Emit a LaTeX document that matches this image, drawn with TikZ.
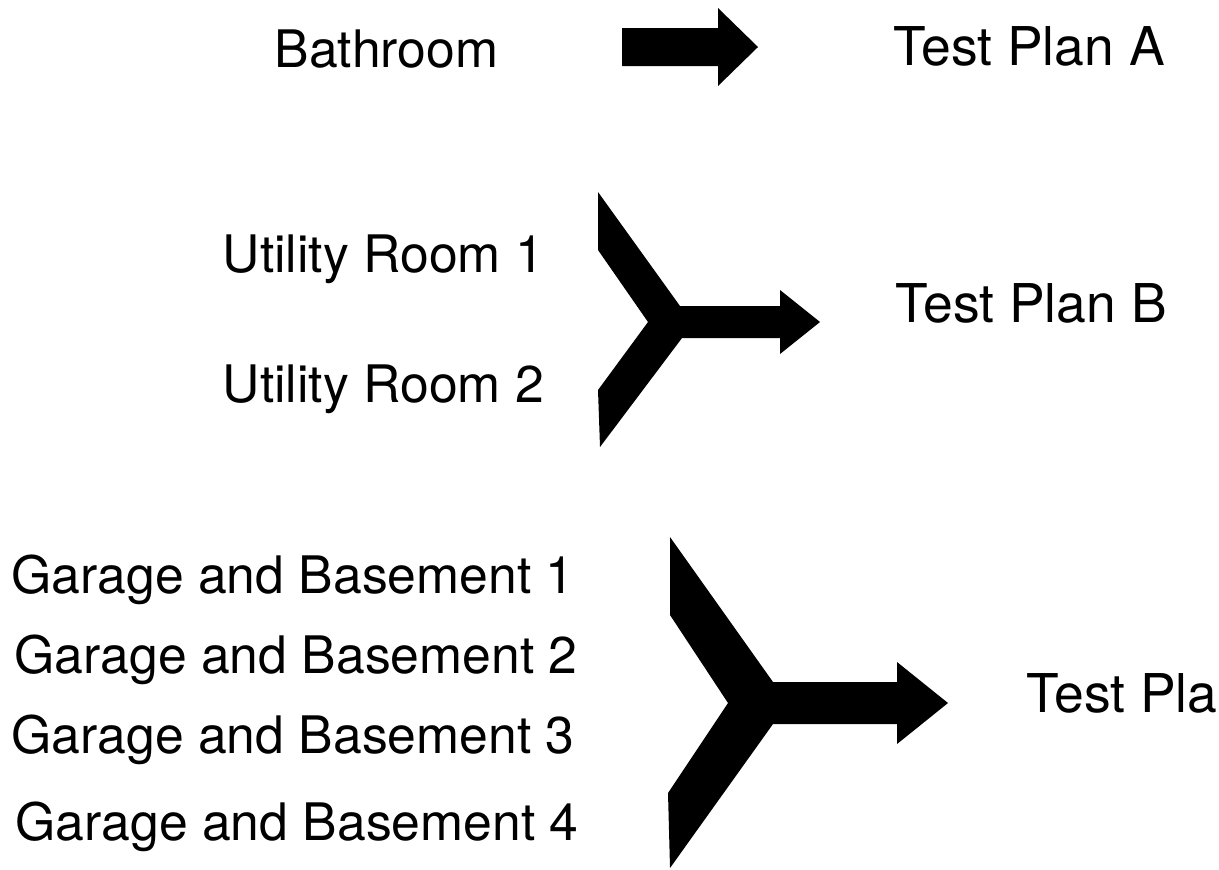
\documentclass[tikz,border=0pt]{standalone}
\usepackage{fontspec}
\setmainfont{TeX Gyre Heros}
\usepackage{tikz}
\usetikzlibrary{positioning}

\tikzset{
  roomlabel/.style={anchor=base west, inner sep=0pt, font=\fontsize{14.7}{17}\selectfont},
  planlabel/.style={anchor=base west, inner sep=0pt, font=\fontsize{15.2}{17}\selectfont},
  blockarrow/.style={fill=black, draw=none}
}

\begin{document}
\begin{tikzpicture}[x=0.01cm, y=-0.01cm]
    \useasboundingbox (0,0) rectangle (1219,869);

    % Rooms
    \node[roomlabel] (bath) at (274,67) {Bathroom};
    \node[roomlabel] (util1) at (222,272) {Utility Room 1};
    \node[roomlabel] (util2) at (222,402) {Utility Room 2};
    \node[roomlabel] (gar1) at (11,593) {Garage and Basement 1};
    \node[roomlabel] (gar2) at (14,673) {Garage and Basement 2};
    \node[roomlabel] (gar3) at (11,753) {Garage and Basement 3};
    \node[roomlabel] (gar4) at (15,840) {Garage and Basement 4};

    % Test plans
    \node[planlabel] (planA) at (893,65) {Test Plan A};
    \node[planlabel] (planB) at (895,322) {Test Plan B};
    \node[planlabel] (planC) at (1026,712) {Test Pla};

    % Single arrow
    \fill[blockarrow] (622,28) -- (718,28) -- (718,8) -- (758,47) -- (718,86)
        -- (718,66) -- (622,66) -- cycle;

    % Two-way merge
    \fill[blockarrow] (598,192) -- (680,306) -- (780,306) -- (780,290) -- (820,322)
        -- (780,354) -- (780,338) -- (682,338) -- (600,447) -- (598,390)
        -- (648,322) -- (598,250) -- cycle;

    % Four-way merge
    \fill[blockarrow] (670,537) -- (773,682) -- (897,682) -- (897,662) -- (948,703)
        -- (897,744) -- (897,724) -- (773,724) -- (670,868) -- (668,793)
        -- (728,703) -- (670,615) -- cycle;
\end{tikzpicture}
\end{document}
